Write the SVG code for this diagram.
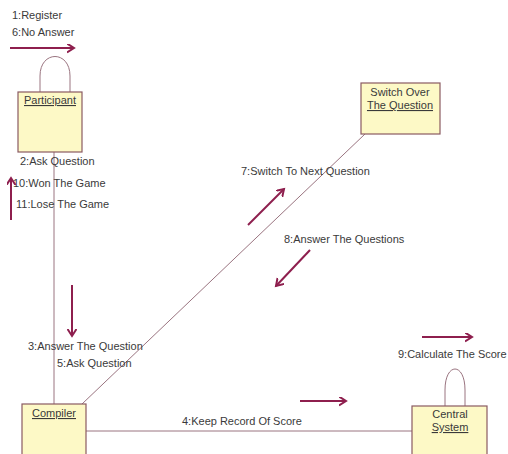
<svg xmlns="http://www.w3.org/2000/svg" width="508" height="454" viewBox="0 0 508 454">
<style>
text{font-family:"Liberation Sans",Arial,sans-serif;font-size:11px;fill:#3a3a3a}
.box{fill:#fdf9c6;stroke:#8a5a62;stroke-width:1.2}
.ln{fill:none;stroke:#9a7480;stroke-width:1}
.ar{fill:none;stroke:#8e1f4e;stroke-width:2;marker-end:url(#ah)}
.u{text-decoration:underline}
</style>
<defs>
<marker id="ah" markerWidth="10" markerHeight="10" refX="7" refY="4.5" orient="auto" markerUnits="userSpaceOnUse">
<path d="M0,0 L7,4.5 L0,9" fill="none" stroke="#8e1f4e" stroke-width="2"/>
</marker>
</defs>
<rect width="508" height="454" fill="#fff"/>
<g id="connectors">
<line class="ln" x1="54" y1="152" x2="54" y2="404"/>
<line class="ln" x1="82" y1="404" x2="365" y2="134"/>
<line class="ln" x1="86" y1="431" x2="412" y2="431"/>
<path class="ln" d="M40,92 L40,76 C40,50 70,50 70,76 L70,92"/>
<path class="ln" d="M445,406 L445,390 C445,362 465,362 465,390 L465,406"/>
</g>
<g id="messages">
<text x="12" y="19">1:Register</text>
<text x="12" y="36">6:No Answer</text>
<line class="ar" x1="10" y1="48" x2="74" y2="48"/>
<text x="20" y="165">2:Ask Question</text>
<text x="13" y="187">10:Won The Game</text>
<text x="16" y="208">11:Lose The Game</text>
<line class="ar" x1="11" y1="220" x2="11" y2="178"/>
<line class="ar" x1="72" y1="285" x2="72" y2="336"/>
<text x="28" y="350">3:Answer The Question</text>
<text x="57" y="367">5:Ask Question</text>
<text x="241" y="175">7:Switch To Next Question</text>
<line class="ar" x1="248" y1="225" x2="284" y2="189"/>
<text x="284" y="243">8:Answer The Questions</text>
<line class="ar" x1="310" y1="250" x2="276" y2="286"/>
<text x="182" y="425">4:Keep Record Of Score</text>
<line class="ar" x1="300" y1="401" x2="346" y2="401"/>
<line class="ar" x1="422" y1="337" x2="472" y2="337"/>
<text x="398" y="358">9:Calculate The Score</text>
</g>
<g id="participant">
<rect class="box" x="18" y="92" width="64" height="60"/>
<text x="50" y="104" text-anchor="middle" class="u">Participant</text>
</g>
<g id="switch">
<rect class="box" x="361" y="83" width="79" height="51"/>
<text x="400" y="96" text-anchor="middle">Switch Over</text>
<text x="400" y="109" text-anchor="middle" class="u">The Question</text>
</g>
<g id="compiler">
<rect class="box" x="22" y="404" width="64" height="55"/>
<text x="54" y="417" text-anchor="middle" class="u">Compiler</text>
</g>
<g id="central">
<rect class="box" x="412" y="406" width="75" height="55"/>
<text x="450" y="418" text-anchor="middle">Central</text>
<text x="450" y="431" text-anchor="middle" class="u">System</text>
</g>
</svg>
